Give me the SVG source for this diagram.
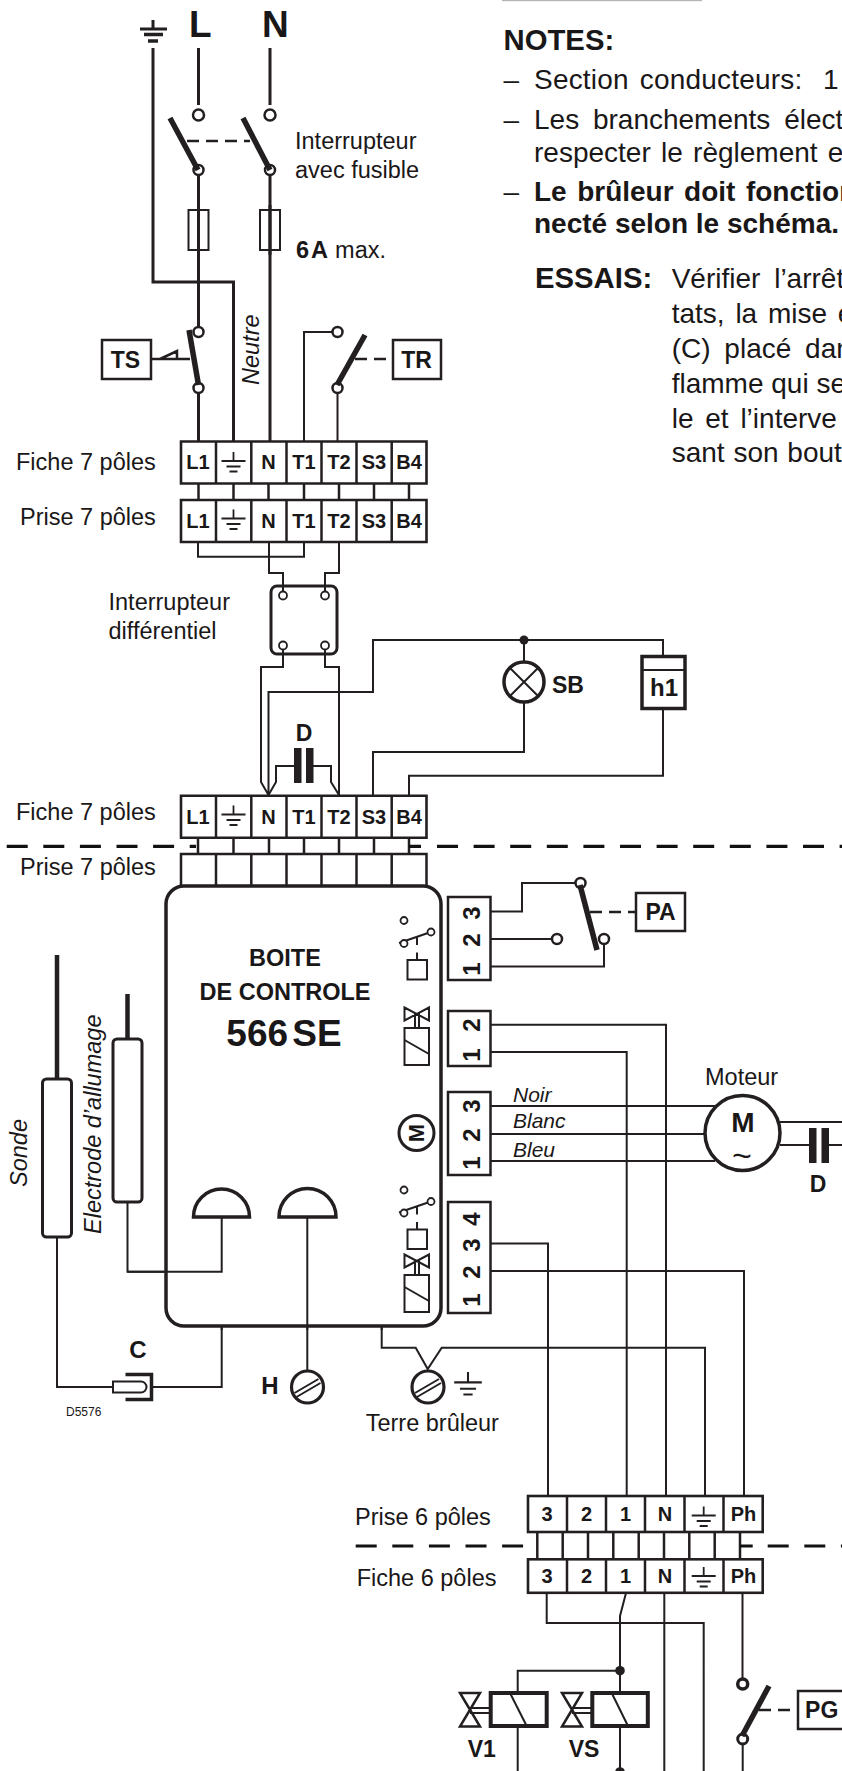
<svg xmlns="http://www.w3.org/2000/svg" width="842" height="1771" viewBox="0 0 842 1771">
<style>
text{font-family:"Liberation Sans",Arial,sans-serif;fill:#1a1718}
.n{font-size:23.5px}
.b{font-weight:700}
.i{font-style:italic}
.t{font-size:20px;font-weight:700;text-anchor:middle}
.c{text-anchor:middle}
.p{font-size:23px;font-weight:700;text-anchor:middle}
.d{font-size:24px;font-weight:700;text-anchor:middle}
.note{font-size:28px}
.w{fill:none;stroke:#231f20;stroke-width:2}
.w3{fill:none;stroke:#231f20;stroke-width:3}
.s{fill:none;stroke:#231f20;stroke-width:2.5}
.blade{fill:none;stroke:#231f20;stroke-width:5.5}
.dash{fill:none;stroke:#231f20;stroke-width:2.5;stroke-dasharray:12 7}
.sep{fill:none;stroke:#111;stroke-width:3.2;stroke-dasharray:21 15.6}
.o{fill:#fff;stroke:#231f20;stroke-width:2.5}
.o2{fill:#fff;stroke:#231f20;stroke-width:1.8}
.dot{fill:#231f20}
.cell{fill:#fff;stroke:#231f20;stroke-width:2.6}
</style>
<defs>
<path id="earth" d="M0 0V9M-12 9H12M-7 14.5H7M-4 19.5H4" fill="none" stroke="#231f20" stroke-width="1.8"/>
<g id="row7"><path class="cell" d="M181 0H426.5V42H181Z"/><path class="s" d="M216 0V42M251.300 0V42M286.500 0V42M321.500 0V42M356.500 0V42M391.700 0V42"/></g>
<g id="relay"><path class="w" d="M399 22.500L428 12.500M417 16.500V24.500M417 32V39"/><circle class="o2" cx="404" cy="0" r="3.500"/><circle class="o2" cx="431" cy="11.500" r="3.500"/><circle class="o2" cx="404" cy="23" r="3.500"/><rect class="w" x="407.500" y="39.500" width="19.500" height="19.500"/></g>
<g id="valve"><path class="w" d="M404.500 0L429 13V0L404.500 13ZM415 6V21M419 6V21"/><rect class="w" x="404.500" y="20.500" width="24.500" height="37"/><path class="w" d="M404.500 32.500L429 46.500"/></g>
<g id="hour"><path d="M0 0H20L0 33.500H20Z" fill="#fff" stroke="#231f20" stroke-width="2.500"/><path class="w" d="M10 15H30M10 20H30"/></g>
<g id="screw"><circle r="16" fill="#fff" stroke="#231f20" stroke-width="3.200"/><path class="w" d="M-13 6L11 -8M-11 10L13 -4"/></g>
</defs>

<rect x="502" y="0" width="200" height="1.200" fill="#b5b5b5"/>

<g id="connectors">
<path class="w3" d="M153 48V282H233.500V441M198.500 48V105M270 48V105M198.500 175V330M270 175V441M198.500 393V441"/>
<path class="w" d="M332 332H304V441M337.500 393V441"/>
<path class="s" d="M198.500 483V500M233.500 483V500M268.500 483V500M304 483V500M339 483V500M374 483V500M409 483V500"/>
<path class="w" d="M198 543V556.700H304V543M269 543V573H283V591M339 543V573H325V591"/>
<path class="w" d="M283 650V667H261V782L268.500 795M325 650V667H339V795M268.500 795V692H373V640H663V656M524 640V662M524 702V752H373V795M409 795V775.700H663V708"/>
<circle class="dot" cx="524" cy="640" r="4.500"/>
<path class="w" d="M268.500 795L276 782V766H294M313 766H331V782L339 795"/>
<path class="s" d="M198 838V854M233.500 838V854M269 838V854M304 838V854M339 838V854M374 838V854M409 838V854"/>
<path class="sep" d="M6.700 846.300H196"/>
<path class="sep" d="M409 846.300H421M437 846.300H842"/>
<path class="w" d="M490 911.500H522V883H575M490 939H552M490 966.500H604V944"/>
<path class="w" d="M490 1024.700H666V1496M490 1052H626.700V1496M490 1106H715M490 1134H704M490 1161H715"/>
<path class="w" d="M490 1243.500H548V1496M490 1271H744V1496"/>
<path class="w" d="M780 1122H842M780 1145H809M828 1145H842"/>
<path class="w" d="M127.500 1202V1271.700H221.700V1217M307.300 1217V1371M57 1237V1387H113M152 1387H221.700V1325M381.700 1327V1347.700H415.700L427.700 1369L441.700 1347.700H705V1496"/>
<path class="s" d="M537.300 1532V1559M562.700 1532V1559M588 1532V1559M613.300 1532V1559M638.700 1532V1559M664 1532V1559M689.300 1532V1559M714.700 1532V1559M740 1532V1559"/>
<path class="sep" d="M355.700 1546H537"/>
<path class="sep" d="M740 1546H752.700M767.700 1546H842"/>
<path class="w" d="M546.700 1593V1623H703.700V1771M626 1593L620 1616V1693M620 1670.700H517.700V1693M517.700 1726V1771M620 1726V1771M664.300 1593V1771M742.500 1593V1678M742.700 1745V1771"/>
<circle class="dot" cx="620" cy="1670.700" r="4.800"/>
<circle class="dot" cx="620" cy="1772" r="4.800"/>
</g>

<g id="earth-main"><path class="w3" d="M153 20V29M140 29H167"/><path d="M144 34.500H163" stroke="#231f20" stroke-width="3.500"/><path d="M148 41H158" stroke="#231f20" stroke-width="3.500"/></g>
<text class="b" x="189" y="37" font-size="37">L</text>
<text class="b" x="262" y="37" font-size="37">N</text>

<g id="main-switch">
<path class="dash" d="M187 141H250"/>
<circle class="o" cx="198.500" cy="115" r="5.500"/><circle class="o" cx="270" cy="115" r="5.500"/>
<circle class="o" cx="198.500" cy="170" r="5"/><circle class="o" cx="270" cy="170" r="5"/>
<path class="blade" d="M170 118L198 170M243 118L270 170"/>
<text class="n" x="295" y="149">Interrupteur</text>
<text class="n" x="295" y="178">avec fusible</text>
</g>
<g id="fuses">
<rect class="w" x="188.500" y="210" width="20" height="40"/><rect class="w" x="260" y="210" width="20" height="40"/>
<path class="w3" d="M198.500 205V255"/><path class="w3" d="M270 205V255"/>
<text class="n b" x="296" y="258">6<tspan dx="2">A</tspan><tspan font-weight="400" dx="7">max.</tspan></text>
</g>
<text class="n i" transform="translate(259 385) rotate(-90)">Neutre</text>

<g id="TS">
<path class="s" d="M151 359H161M160 359L177 351V359ZM177 359H190"/>
<circle class="o" cx="198.500" cy="332" r="5"/><circle class="o" cx="198.500" cy="388" r="5"/>
<path class="blade" d="M189 330L198.500 385"/>
<rect class="s" x="102" y="340" width="49" height="39"/>
<text class="p" x="125.500" y="368">TS</text>
</g>
<g id="TR">
<path class="dash" d="M355 359H392"/>
<circle class="o" cx="337.500" cy="332" r="5"/><circle class="o" cx="337.500" cy="388" r="5"/>
<path class="blade" d="M365 335L337 385"/>
<rect class="s" x="393" y="340" width="48" height="39"/>
<text class="p" x="416.500" y="368">TR</text>
</g>

<g id="fiche7-a">
<text class="n" x="16" y="470">Fiche 7 pôles</text>
<use href="#row7" y="441.500"/>
<text class="t" x="198" y="469">L1</text><use href="#earth" x="233.500" y="452"/><text class="t" x="268.500" y="469">N</text><text class="t" x="304" y="469">T1</text><text class="t" x="339" y="469">T2</text><text class="t" x="374" y="469">S3</text><text class="t" x="409" y="469">B4</text>
</g>
<g id="prise7-a">
<text class="n" x="20" y="525">Prise 7 pôles</text>
<use href="#row7" y="500"/>
<text class="t" x="198" y="528">L1</text><use href="#earth" x="233.500" y="509.500"/><text class="t" x="268.500" y="528">N</text><text class="t" x="304" y="528">T1</text><text class="t" x="339" y="528">T2</text><text class="t" x="374" y="528">S3</text><text class="t" x="409" y="528">B4</text>
</g>
<g id="differentiel">
<rect x="271" y="586" width="66" height="68" rx="6" fill="#fff" stroke="#231f20" stroke-width="3"/>
<path class="w" d="M283 573V591M325 573V591M283 650V660M325 650V660"/>
<circle class="o2" cx="283" cy="595.500" r="4"/><circle class="o2" cx="325" cy="595.500" r="4"/><circle class="o2" cx="283" cy="645.500" r="4"/><circle class="o2" cx="325" cy="645.500" r="4"/>
<text class="n" x="108.500" y="610">Interrupteur</text>
<text class="n" x="108.500" y="639">différentiel</text>
</g>
<g id="D1">
<text class="p" x="304" y="740.700">D</text>
<rect class="dot" x="294" y="748" width="7.500" height="35"/><rect class="dot" x="306" y="748" width="7.500" height="35"/>
</g>
<g id="SB">
<circle cx="524" cy="682" r="20" fill="#fff" stroke="#231f20" stroke-width="3.500"/>
<path class="w" d="M510 668L538 696M538 668L510 696"/>
<text class="p" x="568" y="692.700">SB</text>
</g>
<g id="h1">
<rect x="642" y="656.500" width="43" height="52" fill="#fff" stroke="#231f20" stroke-width="3.500"/>
<path class="w" d="M642 670H685"/>
<text class="d" x="664" y="696">h1</text>
</g>
<g id="fiche7-b">
<text class="n" x="16" y="820">Fiche 7 pôles</text>
<use href="#row7" y="795.700"/>
<text class="t" x="198" y="824">L1</text><use href="#earth" x="233.500" y="805.500"/><text class="t" x="268.500" y="824">N</text><text class="t" x="304" y="824">T1</text><text class="t" x="339" y="824">T2</text><text class="t" x="374" y="824">S3</text><text class="t" x="409" y="824">B4</text>
</g>
<g id="prise7-b">
<text class="n" x="20" y="875">Prise 7 pôles</text>
<path class="s" d="M181 886V854H426.500V886M216 854V886M251.300 854V886M286.500 854V886M321.500 854V886M356.500 854V886M391.700 854V886"/>
</g>

<g id="boite">
<rect x="166" y="886" width="275" height="440" rx="18" fill="#fff" stroke="#231f20" stroke-width="3.500"/>
<text class="b c" x="285" y="965.700" font-size="23.500">BOITE</text>
<text class="b c" x="285" y="1000" font-size="23.500">DE CONTROLE</text>
<text class="b c" x="284" y="1046" font-size="37" word-spacing="-6">566 SE</text>
<use href="#relay" y="920.500"/>
<use href="#valve" y="1007.500"/>
<circle cx="416.500" cy="1133" r="17.500" fill="none" stroke="#231f20" stroke-width="3"/>
<text class="b c" transform="translate(424 1133) rotate(-90)" font-size="22">M</text>
<use href="#relay" y="1190"/>
<use href="#valve" y="1254.500"/>
<path d="M193.500 1217A28 28 0 0 1 249.500 1217ZM279 1217A28.500 28.500 0 0 1 336 1217Z" fill="#fff" stroke="#231f20" stroke-width="3.500"/>
<path class="w" d="M127.500 1271.700H221.700V1217M307.300 1217V1330M221.700 1325V1330M381.700 1325V1330"/>
</g>

<g id="sonde">
<path d="M57 955V1079" stroke="#231f20" stroke-width="4.500"/>
<rect x="42.500" y="1079" width="29" height="158" rx="4" fill="#fff" stroke="#231f20" stroke-width="3"/>
<text class="n i" transform="translate(26.500 1187) rotate(-90)">Sonde</text>
</g>
<g id="electrode">
<path d="M127.500 994V1039" stroke="#231f20" stroke-width="4.500"/>
<rect x="113" y="1039" width="29" height="163" rx="4" fill="#fff" stroke="#231f20" stroke-width="3"/>
<text class="n i" transform="translate(100.500 1234) rotate(-90)">Electrode d’allumage</text>
</g>
<g id="C">
<path class="w" d="M113 1381.500H141A5.500 5.500 0 0 1 141 1392.500H113Z" fill="#fff"/>
<path d="M125.500 1374.500H151.500V1399.500H125.500" fill="none" stroke="#231f20" stroke-width="3.500"/>
<text class="d" x="138" y="1357.600">C</text>
<text x="66" y="1416" font-size="12">D5576</text>
</g>
<g id="H">
<text class="d" x="270" y="1394">H</text>
<use href="#screw" x="307.500" y="1387"/>
</g>
<g id="terre">
<use href="#screw" x="428" y="1387"/>
<use href="#earth" transform="translate(468 1372) scale(1.15)"/>
<text class="n" x="365.700" y="1430.700">Terre brûleur</text>
</g>

<g id="bloc-PA">
<rect class="s" x="448" y="897" width="42.500" height="83"/>
<text class="d" transform="translate(480 913) rotate(-90)">3</text><text class="d" transform="translate(480 940) rotate(-90)">2</text><text class="d" transform="translate(480 969) rotate(-90)">1</text>
</g>
<g id="PA">
<path class="dash" d="M590 912H636"/>
<circle class="o" cx="580.500" cy="883" r="5"/><circle class="o" cx="557" cy="939" r="5"/><circle class="o" cx="604" cy="939" r="5"/>
<path class="blade" d="M580 885L597 950"/>
<rect class="s" x="636" y="893" width="49" height="38"/>
<text class="p" x="660.500" y="920">PA</text>
</g>
<g id="bloc-2">
<rect class="s" x="448" y="1011" width="42.500" height="55"/>
<text class="d" transform="translate(480 1025) rotate(-90)">2</text><text class="d" transform="translate(480 1055) rotate(-90)">1</text>
</g>
<g id="bloc-3">
<rect class="s" x="448" y="1092" width="42.500" height="83"/>
<text class="d" transform="translate(480 1106) rotate(-90)">3</text><text class="d" transform="translate(480 1135) rotate(-90)">2</text><text class="d" transform="translate(480 1163) rotate(-90)">1</text>
<text class="i" x="513" y="1102" font-size="21">Noir</text>
<text class="i" x="513" y="1128" font-size="21">Blanc</text>
<text class="i" x="513" y="1157" font-size="21">Bleu</text>
</g>
<g id="bloc-4">
<rect class="s" x="448" y="1202" width="42.500" height="111"/>
<text class="d" transform="translate(480 1219) rotate(-90)">4</text><text class="d" transform="translate(480 1245) rotate(-90)">3</text><text class="d" transform="translate(480 1272) rotate(-90)">2</text><text class="d" transform="translate(480 1300) rotate(-90)">1</text>
</g>
<g id="moteur">
<text class="n" x="705" y="1085">Moteur</text>
<circle cx="742.500" cy="1133" r="37.500" fill="#fff" stroke="#231f20" stroke-width="3.500"/>
<text class="b c" x="743" y="1132" font-size="28">M</text>
<text class="c" x="742" y="1167" font-size="34">~</text>
</g>
<g id="D2">
<rect class="dot" x="809" y="1128" width="7.500" height="35"/><rect class="dot" x="821.500" y="1128" width="7.500" height="35"/>
<text class="p" x="818" y="1191.700">D</text>
</g>

<g id="prise6">
<text class="n" x="355" y="1525">Prise 6 pôles</text>
<rect class="cell" x="528" y="1496" width="234.700" height="36"/>
<path class="s" d="M567 1496V1532M606 1496V1532M645 1496V1532M684.500 1496V1532M723.500 1496V1532"/>
<text class="t" x="547" y="1520.700">3</text><text class="t" x="586.500" y="1520.700">2</text><text class="t" x="625.500" y="1520.700">1</text><text class="t" x="665" y="1520.700">N</text><use href="#earth" x="703.700" y="1506.500"/><text class="t" x="743.500" y="1520.700">Ph</text>
</g>
<g id="fiche6">
<text class="n" x="356.700" y="1585.700">Fiche 6 pôles</text>
<rect class="cell" x="528" y="1559.300" width="234.700" height="33.500"/>
<path class="s" d="M567 1559V1593M606 1559V1593M645 1559V1593M684.500 1559V1593M723.500 1559V1593"/>
<text class="t" x="547" y="1582.700">3</text><text class="t" x="586.500" y="1582.700">2</text><text class="t" x="625.500" y="1582.700">1</text><text class="t" x="665" y="1582.700">N</text><use href="#earth" x="703.700" y="1567"/><text class="t" x="743.500" y="1582.700">Ph</text>
</g>
<g id="V1">
<use href="#hour" x="460" y="1693"/>
<rect x="490.700" y="1693" width="56" height="33" fill="#fff" stroke="#231f20" stroke-width="4"/>
<path class="w" d="M510 1693L526.700 1726"/>
<text class="p" x="481.700" y="1757">V1</text>
</g>
<g id="VS">
<use href="#hour" x="562" y="1693"/>
<rect x="592.300" y="1693" width="55.500" height="33" fill="#fff" stroke="#231f20" stroke-width="4"/>
<path class="w" d="M611.700 1693L628 1726"/>
<text class="p" x="584" y="1757">VS</text>
</g>
<g id="PG">
<path class="dash" d="M759 1710H798"/>
<circle class="o" cx="742.700" cy="1684" r="5" style="stroke-width:3.500"/><circle class="o" cx="742.700" cy="1739" r="5" style="stroke-width:3"/>
<path class="blade" d="M769 1686L742 1736"/>
<path class="s" d="M842 1691H798V1729H842"/>
<text class="p" x="821.700" y="1718">PG</text>
</g>

<g id="notes">
<text class="b" x="503.500" y="50" font-size="29.300">NOTES:</text>
<text class="note" x="503.500" y="89.300">–</text>
<text class="note" x="534" y="89.300" word-spacing="3" letter-spacing=".2">Section conducteurs:</text>
<text class="note" x="823" y="89.300">1</text>
<text class="note" x="503.500" y="129">–</text>
<text class="note" x="534" y="129" word-spacing="6">Les branchements élect</text>
<text class="note" x="534" y="161.500" word-spacing="2.500">respecter le règlement e</text>
<text class="note" x="503.500" y="200.700">–</text>
<text class="note b" x="534" y="200.700" word-spacing="2.700">Le brûleur doit fonction</text>
<text class="note b" x="534" y="233">necté selon le schéma.</text>
<text class="b" x="535" y="288.300" font-size="29.300">ESSAIS:</text>
<text class="note" x="671.700" y="288.300" word-spacing="6">Vérifier l’arrêt</text>
<text class="note" x="671.700" y="323.300" word-spacing="3">tats, la mise e</text>
<text class="note" x="671.700" y="358" word-spacing="6">(C) placé dan</text>
<text class="note" x="671.700" y="392.700">flamme qui se</text>
<text class="note" x="671.700" y="427.700" word-spacing="4">le et l’interve</text>
<text class="note" x="671.700" y="462" word-spacing="1">sant son bout</text>
</g>
</svg>
